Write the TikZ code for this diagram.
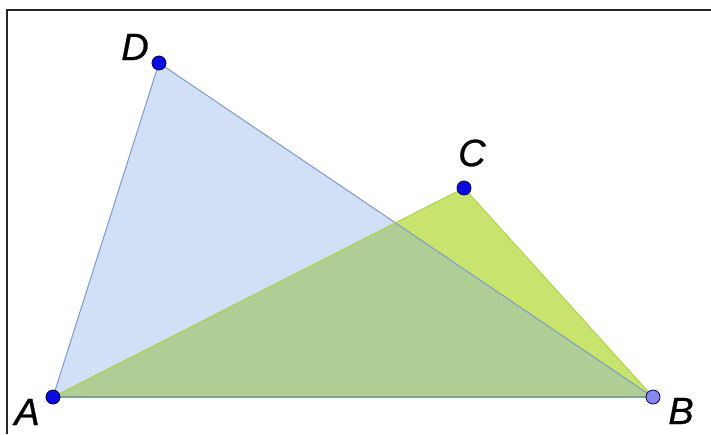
\documentclass[tikz,border=0pt]{standalone}
\usepackage{fontspec}
\setmainfont{Liberation Sans}
\newfontfamily\labfont[FakeBold=0.8]{Liberation Sans Italic}
\definecolor{bluefill}{RGB}{210,224,247}
\definecolor{greenfill}{RGB}{200,228,110}
\definecolor{overfill}{RGB}{175,206,150}
\definecolor{blueedge}{RGB}{125,155,200}
\definecolor{greenedge}{RGB}{175,210,70}
\definecolor{baseedge}{RGB}{125,165,150}
\definecolor{ptdark}{RGB}{10,10,225}
\definecolor{ptlight}{RGB}{135,135,240}
\tikzset{
  pt/.style={circle,inner sep=0pt,minimum size=14pt,fill=ptdark,draw=black!75!blue,line width=0.8pt},
  ptl/.style={pt,fill=ptlight,draw=black!65!blue},
  lab/.style={font=\labfont\fontsize{38}{38}\selectfont,inner sep=0pt}
}
\begin{document}
\begin{tikzpicture}[x=1pt,y=-1pt]
\useasboundingbox (0,0) rectangle (711,434);
\fill[white] (0,0) rectangle (711,434);
\coordinate (A) at (53,397);
\coordinate (B) at (653,397);
\coordinate (C) at (464,188);
\coordinate (D) at (159,63);
% frame
\draw[line width=2pt,black!85] (7,434) -- (7,10) -- (711,10);
% fills
\fill[bluefill] (A) -- (B) -- (D) -- cycle;
\fill[greenfill] (A) -- (B) -- (C) -- cycle;
\begin{scope}
\clip (A) -- (B) -- (D) -- cycle;
\fill[overfill] (A) -- (B) -- (C) -- cycle;
\end{scope}
% edges
\draw[blueedge,line width=1pt] (A) -- (D) -- (B);
\draw[greenedge,line width=1pt] (A) -- (C) -- (B);
\draw[baseedge,line width=2pt] (A) -- (B);
% points
\node[pt] (pA) at (A) {};
\node[ptl] (pB) at (B) {};
\node[pt] (pC) at (C) {};
\node[pt] (pD) at (D) {};
% labels
\node[lab] (lA) at (27,412) {A};
\node[lab] (lB) at (681,411) {B};
\node[lab] (lC) at (472,153) {C};
\node[lab] (lD) at (135,47) {D};
\end{tikzpicture}
\end{document}
